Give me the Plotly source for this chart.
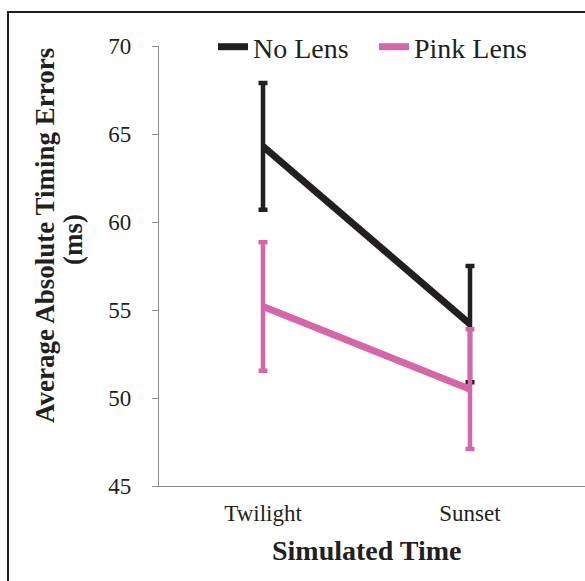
import plotly.graph_objects as go

categories = ["Twilight", "Sunset"]
no_lens = [64.3, 54.2]
no_lens_err = [3.6, 3.3]
pink_lens = [55.2, 50.5]
pink_lens_err = [3.65, 3.4]
y_ticks = [45, 50, 55, 60, 65, 70]

BLACK = "#231f20"
PINK = "#d666a8"
FONT = "Times New Roman, Liberation Serif, serif"

W, H = 585, 581
L, R, T, B = 159, 0, 46, 95
pw = W - L - R
ph = H - T - B

def px_x(p):
    return (p - L) / pw

def px_y(p):
    return (H - B - p) / ph

fig = go.Figure()
fig.add_trace(go.Scatter(
    x=categories, y=no_lens, name="No Lens", mode="lines",
    line=dict(color=BLACK, width=7),
    error_y=dict(type="data", array=no_lens_err, visible=True,
                 color=BLACK, thickness=4.5, width=4.5),
))
fig.add_trace(go.Scatter(
    x=categories, y=pink_lens, name="Pink Lens", mode="lines",
    line=dict(color=PINK, width=7),
    error_y=dict(type="data", array=pink_lens_err, visible=True,
                 color=PINK, thickness=4.5, width=4.5),
))

fig.update_layout(
    width=W, height=H,
    margin=dict(l=L, r=R, t=T, b=B, pad=0),
    paper_bgcolor="white", plot_bgcolor="white",
    font=dict(family=FONT, color=BLACK),
    showlegend=True,
    legend=dict(orientation="h", x=px_x(213), y=px_y(47), xanchor="left", yanchor="middle",
                font=dict(family=FONT, size=28, color=BLACK),
                bgcolor="rgba(0,0,0,0)", traceorder="normal", itemwidth=30,
                entrywidth=116, entrywidthmode="pixels"),
    xaxis=dict(type="category", range=[-(263 - L) / 207, (W - 263) / 207],
               showline=True, linecolor="#8c8c8c", linewidth=1.2,
               ticks="", showgrid=False, zeroline=False, ticklabelstandoff=6,
               tickfont=dict(family=FONT, size=23, color=BLACK)),
    yaxis=dict(range=[45, 70], tickvals=y_ticks,
               showline=True, linecolor="#8c8c8c", linewidth=1.2,
               ticks="outside", ticklen=6, tickcolor="#8c8c8c", tickwidth=1.2,
               showgrid=False, zeroline=False, ticklabelstandoff=16,
               tickfont=dict(family=FONT, size=23, color=BLACK)),
    annotations=[
        dict(text="Average Absolute Timing Errors", textangle=-90,
             xref="paper", yref="paper", x=px_x(45), y=px_y(236),
             xanchor="center", yanchor="middle", showarrow=False,
             font=dict(family=FONT, size=27, color=BLACK, weight="bold")),
        dict(text="(ms)", textangle=-90,
             xref="paper", yref="paper", x=px_x(73), y=px_y(240),
             xanchor="center", yanchor="middle", showarrow=False,
             font=dict(family=FONT, size=27, color=BLACK, weight="bold")),
        dict(text="Simulated Time",
             xref="paper", yref="paper", x=px_x(367), y=px_y(550),
             xanchor="center", yanchor="middle", showarrow=False,
             font=dict(family=FONT, size=28, color=BLACK, weight="bold")),
    ],
    shapes=[
        dict(type="rect", xref="paper", yref="paper",
             x0=px_x(8), y0=px_y(640), x1=px_x(640), y1=px_y(12),
             line=dict(color=BLACK, width=2), fillcolor="rgba(0,0,0,0)", layer="above"),
    ],
)

fig.write_html("out.html", config={"displayModeBar": False},
               post_script="document.body.style.margin='0';document.body.style.overflow='hidden';")
